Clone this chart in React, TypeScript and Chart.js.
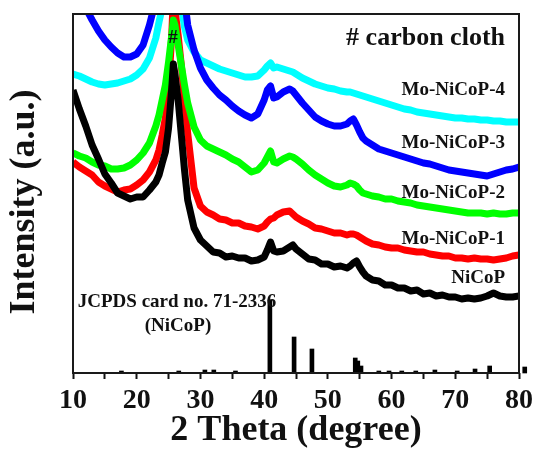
import React, { useEffect, useRef } from 'react';
import { Chart, registerables } from 'chart.js';

Chart.register(...registerables);

const FONT = '"Liberation Serif", "Times New Roman", serif';

// 2θ sampling (degree)
const twoTheta = [10, 11, 12, 13, 14, 15, 16, 17, 18, 19, 20, 21, 22, 23, 23.5, 24, 24.5, 25, 25.5, 25.75, 26, 26.5, 27, 27.5, 28, 29, 30, 31, 32, 33, 34, 35, 36, 37, 38, 39, 40, 40.5, 41, 41.5, 42, 43, 44, 44.5, 45, 46, 47, 48, 49, 50, 51, 52, 53, 53.5, 54, 54.5, 55, 55.5, 56, 57, 58, 59, 60, 61, 62, 63, 64, 65, 66, 67, 68, 69, 70, 71, 72, 73, 74, 75, 76, 77, 78, 79, 80];

// intensities (a.u.)
const nicop = [283, 264, 247, 228, 214, 199, 190, 180, 177, 174, 176, 176, 183, 191, 198, 210, 221, 245, 285, 309, 299, 273, 238, 203, 173, 145, 133, 127, 121, 120, 116, 117, 115, 115, 112, 113, 116, 123, 131, 122, 121, 122, 126, 128, 124, 119, 114, 113, 109, 109, 106, 107, 105, 107, 110, 112, 106, 101, 97, 93, 92, 88, 88, 85, 85, 82, 83, 79, 80, 77, 78, 76, 76, 74, 75, 74, 75, 77, 80, 77, 76, 76, 77, 76];
const moNiCoP1 = [211, 206, 202, 198, 191, 187, 184, 181, 183, 184, 188, 193, 201, 213, 223, 238, 255, 285, 338, 378, 363, 338, 308, 273, 240, 185, 167, 161, 158, 154, 153, 150, 150, 147, 146, 144, 147, 151, 154, 155, 158, 161, 162, 159, 156, 152, 149, 145, 144, 142, 140, 140, 138, 139, 139, 138, 136, 134, 132, 129, 128, 126, 125, 125, 123, 122, 121, 121, 119, 118, 117, 117, 115, 115, 114, 115, 114, 114, 113, 114, 115, 117, 118];
const moNiCoP2 = [220, 217, 215, 211, 208, 207, 204, 204, 205, 208, 213, 220, 230, 247, 258, 273, 288, 311, 338, 353, 348, 328, 308, 288, 270, 246, 233, 227, 224, 221, 218, 214, 211, 206, 201, 203, 210, 216, 222, 211, 210, 214, 217, 216, 214, 209, 203, 198, 194, 190, 187, 186, 188, 190, 189, 187, 183, 180, 179, 177, 176, 174, 174, 172, 171, 170, 168, 167, 166, 165, 164, 163, 162, 161, 160, 160, 160, 159, 160, 159, 159, 160, 160];
const moNiCoP3 = [387, 376, 365, 353, 342, 333, 326, 320, 316, 316, 319, 328, 348, 373, 395, 410, 425, 440, 455, 460, 455, 430, 400, 375, 348, 323, 305, 293, 285, 278, 273, 267, 262, 258, 255, 259, 273, 283, 287, 275, 276, 281, 284, 282, 278, 270, 263, 256, 252, 249, 247, 247, 249, 252, 254, 248, 241, 235, 232, 228, 224, 222, 220, 218, 216, 214, 212, 210, 209, 207, 205, 203, 202, 201, 200, 199, 198, 197, 199, 201, 203, 204, 206];
const moNiCoP4 = [299, 297, 294, 291, 289, 288, 289, 290, 292, 294, 298, 304, 315, 335, 351, 365, 380, 403, 423, 428, 423, 393, 368, 346, 333, 321, 313, 310, 307, 304, 302, 300, 298, 296, 296, 297, 303, 307, 310, 305, 306, 304, 302, 301, 299, 295, 292, 289, 287, 285, 284, 282, 281, 281, 280, 279, 278, 277, 276, 274, 272, 270, 268, 266, 264, 263, 261, 260, 259, 258, 257, 256, 255, 255, 254, 254, 253, 253, 252, 252, 251, 251, 251];

// JCPDS card no. 71-2336 (NiCoP) reference lines
const refAngles = [17.6, 26.6, 30.7, 32.1, 35.5, 40.9, 44.7, 47.5, 54.3, 54.7, 55.2, 58.0, 59.6, 61.6, 63.8, 66.8, 70.3, 73.1, 75.4, 80.9];
const refHeights = [2, 2, 3, 3, 2, 73, 36, 24, 15, 12, 7, 2, 2, 2, 2, 3, 2, 4, 7, 6];

const seriesNames = ['NiCoP', 'Mo-NiCoP-1', 'Mo-NiCoP-2', 'Mo-NiCoP-3', 'Mo-NiCoP-4'];
const seriesColors = ['#000000', '#ff0000', '#00ff00', '#0000ff', '#00ffff'];
const seriesValues = [nicop, moNiCoP1, moNiCoP2, moNiCoP3, moNiCoP4];
const seriesLabelY = [278, 239, 193, 143, 90];

const xMin = 10;
const xMax = 80;
const yMax = 359;

const annotate = {
  id: 'annotate',
  afterDraw(chart: any) {
    const ctx = chart.ctx as CanvasRenderingContext2D;
    const a = chart.chartArea;
    ctx.save();
    ctx.strokeStyle = '#1a1a1a';
    ctx.lineWidth = 2;
    ctx.strokeRect(a.left, a.top, a.right - a.left, a.bottom - a.top);

    ctx.fillStyle = '#111';
    ctx.textBaseline = 'middle';
    ctx.textAlign = 'right';
    ctx.font = `bold 26px ${FONT}`;
    ctx.fillText('# carbon cloth', 505, 38);
    ctx.font = `bold 19px ${FONT}`;
    seriesNames.forEach((n, i) => ctx.fillText(n, 505, seriesLabelY[i]));

    ctx.textAlign = 'center';
    ctx.fillText('JCPDS card no. 71-2336', 177, 302);
    ctx.fillText('(NiCoP)', 178, 326);
    ctx.font = `bold 19px ${FONT}`;
    ctx.fillText('#', 173, 38);

    ctx.translate(25, 202);
    ctx.rotate(-Math.PI / 2);
    ctx.font = `bold 36px ${FONT}`;
    ctx.fillText('Intensity (a.u.)', 0, 0);
    ctx.restore();
  },
};

export default function App() {
  const ref = useRef<HTMLCanvasElement | null>(null);
  useEffect(() => {
    if (!ref.current) return;
    const lineSets = seriesValues.map((vals, i) => ({
      type: 'line' as const,
      label: seriesNames[i],
      data: twoTheta.map((x, j) => ({ x, y: vals[j] })),
      borderColor: seriesColors[i],
      backgroundColor: seriesColors[i],
      borderWidth: 7,
      pointRadius: 0,
      tension: 0,
      borderJoinStyle: 'round' as const,
      clip: 0,
    }));
    // draw order: first dataset on top
    const order = [0, 2, 1, 3, 4];
    const datasets: any[] = order.map((i) => lineSets[i]);
    datasets.push({
      type: 'bar',
      label: 'JCPDS 71-2336',
      data: refAngles.map((x, j) => ({ x, y: refHeights[j] })),
      backgroundColor: '#000',
      borderWidth: 0,
      barThickness: 4,
      grouped: false,
      clip: false,
    });
    const chart = new Chart(ref.current, {
      type: 'line',
      data: { datasets },
      options: {
        animation: false,
        responsive: false,
        devicePixelRatio: 1,
        layout: { padding: { left: 73, top: 14, right: 18, bottom: 0 } },
        plugins: { legend: { display: false }, tooltip: { enabled: false } },
        scales: {
          x: {
            type: 'linear',
            min: xMin,
            max: xMax,
            offset: false,
            afterFit: (s: any) => {
              s.height = 81;
            },
            border: { display: false },
            grid: {
              display: true,
              drawOnChartArea: false,
              drawTicks: true,
              tickLength: 6,
              tickWidth: 2,
              tickColor: '#111',
              offset: false,
            },
            ticks: {
              stepSize: 5,
              autoSkip: false,
              maxRotation: 0,
              padding: 5,
              color: '#111',
              font: { family: FONT, size: 28, weight: 'bold' },
              callback: (v: any) => (Number(v) % 10 === 0 ? String(v) : ''),
            },
            title: {
              display: true,
              text: '2 Theta (degree)',
              color: '#111',
              font: { family: FONT, size: 36, weight: 'bold' },
              padding: { top: 0, bottom: 2 },
            },
          },
          y: {
            type: 'linear',
            display: false,
            min: 0,
            max: yMax,
          },
        },
      } as any,
      plugins: [annotate],
    });
    return () => chart.destroy();
  }, []);
  return (
    <div style={{ position: 'absolute', left: 0, top: 0, width: 538, height: 454, background: '#fff' }}>
      <canvas ref={ref} width={538} height={454} />
    </div>
  );
}
